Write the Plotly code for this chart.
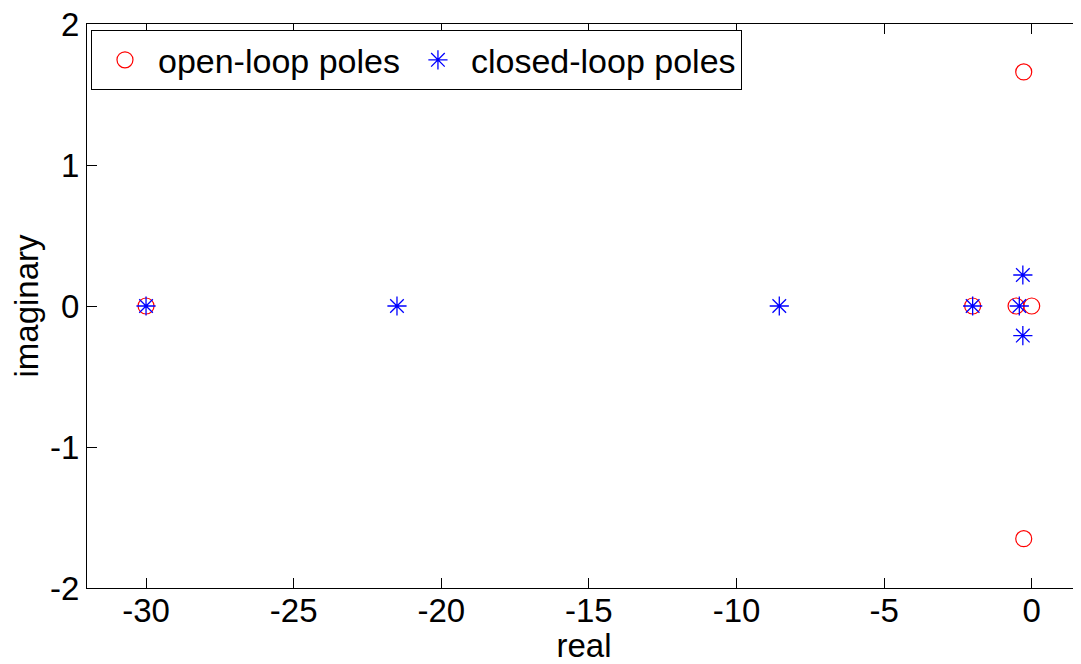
import plotly.graph_objects as go

# open-loop poles (real, imaginary)
ol_real = [-30.0, -2.0, -0.53, 0.0, -0.27, -0.27]
ol_imag = [0.0, 0.0, 0.0, 0.0, 1.66, -1.65]

# closed-loop poles (real, imaginary)
cl_real = [-30.0, -21.5, -8.55, -2.0, -0.42, -0.30, -0.30]
cl_imag = [0.0, 0.0, 0.0, 0.0, 0.0, 0.22, -0.21]

x_ticks = [-30, -25, -20, -15, -10, -5, 0]
y_ticks = [-2, -1, 0, 1, 2]

FONT = "Liberation Sans, Arial, sans-serif"
FS = 33

fig = go.Figure()
fig.add_trace(go.Scatter(
    x=ol_real, y=ol_imag, mode="markers", name="open-loop poles",
    marker=dict(symbol="circle-open", size=16, color="rgb(255,0,0)",
                line=dict(width=1.2, color="rgb(255,0,0)")),
))
fig.add_trace(go.Scatter(
    x=cl_real, y=cl_imag, mode="markers", name="closed-loop poles",
    marker=dict(symbol="asterisk-open", size=16, color="rgb(0,0,255)",
                line=dict(width=1.3, color="rgb(0,0,255)")),
))

# page body has an 8px default margin; compensate so the plot lands where the reference has it
fig.update_layout(
    width=1073, height=656,
    margin=dict(l=79, r=0, t=16, b=76),
    paper_bgcolor="white", plot_bgcolor="white",
    font=dict(family=FONT, size=FS, color="black"),
    showlegend=True,
    legend=dict(
        orientation="h", x=0.004, y=0.989, xanchor="left", yanchor="top",
        bordercolor="black", borderwidth=1, bgcolor="white",
        font=dict(family=FONT, size=34, color="black"),
        itemwidth=56,
    ),
    xaxis=dict(
        range=[-32, 1.67], tickvals=x_ticks, ticktext=[str(v) for v in x_ticks],
        ticks="inside", ticklen=10, tickwidth=1, tickcolor="black",
        showline=True, linecolor="black", linewidth=1, mirror="ticks",
        showgrid=False, zeroline=False, automargin=False,
        ticklabelstandoff=-7, ticklabeloverflow="allow",
        title=dict(text="real", standoff=17, font=dict(size=FS)),
        tickfont=dict(size=FS),
    ),
    yaxis=dict(
        range=[-2, 2], tickvals=y_ticks, ticktext=[str(v) for v in y_ticks],
        ticks="inside", ticklen=10, tickwidth=1, tickcolor="black",
        showline=True, linecolor="black", linewidth=1, mirror=False,
        showgrid=False, zeroline=False, automargin=False,
        ticklabeloverflow="allow",
        title=dict(text="imaginary", standoff=9, font=dict(size=FS)),
        tickfont=dict(size=FS),
    ),
)

fig.write_html("out.html")
